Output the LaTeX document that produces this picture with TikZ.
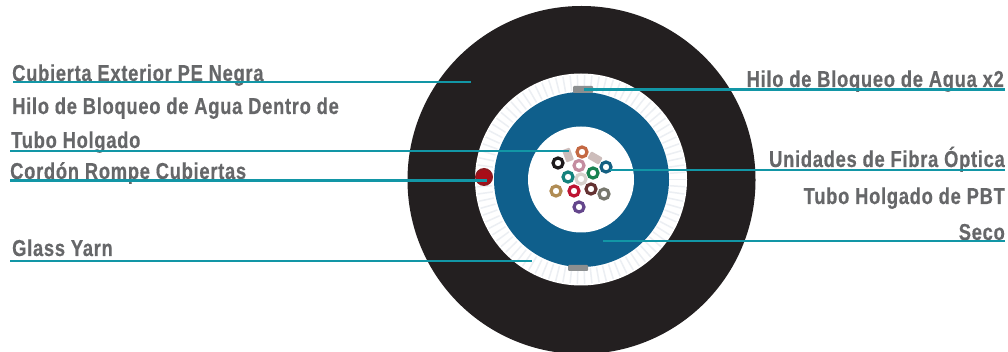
\documentclass[tikz,border=0pt]{standalone}
\usepackage{fontspec}
\newfontfamily\lblfont[FakeStretch=0.80,LetterSpace=3,FakeBold=0.4]{Liberation Sans Bold}
\definecolor{jacket}{HTML}{231F20}
\definecolor{tube}{HTML}{0F5F8C}
\definecolor{leader}{HTML}{1296A6}
\definecolor{txt}{HTML}{666769}
\definecolor{yarn}{HTML}{ECEFF3}
\definecolor{thread}{HTML}{8C8F90}
\definecolor{paleunit}{HTML}{CDBDBB}
\definecolor{ripdark}{HTML}{8E1A20}
\definecolor{ripred}{HTML}{A80D18}
\definecolor{cA}{HTML}{C46842}
\definecolor{cB}{HTML}{1E1A1C}
\definecolor{cC}{HTML}{C48CA0}
\definecolor{cD}{HTML}{146082}
\definecolor{cE}{HTML}{188250}
\definecolor{cF}{HTML}{14827D}
\definecolor{cG}{HTML}{D7D2CD}
\definecolor{cH}{HTML}{B08C54}
\definecolor{cI}{HTML}{BE1432}
\definecolor{cJ}{HTML}{643232}
\definecolor{cK}{HTML}{78786E}
\definecolor{cL}{HTML}{64468C}
\tikzset{
  lbl/.style={font=\lblfont\fontsize{23}{24}\selectfont,text=txt,inner sep=0pt},
  lblL/.style={lbl,anchor=base west},
  lblR/.style={lbl,anchor=base east},
  conn/.style={draw=leader,line width=2.2pt},
  fibre/.style={circle,draw=#1,line width=3.2pt,fill=white,minimum size=10pt,inner sep=0pt},
  disc/.style={circle,inner sep=0pt,minimum size=#1},
  threadbox/.style={fill=thread,rounded corners=1pt,inner sep=0pt},
  paleblock/.style={minimum width=8pt,minimum height=13pt,inner sep=0pt,fill=paleunit,rounded corners=1pt}
}
\begin{document}
\begin{tikzpicture}[x=1pt,y=-1pt]
\useasboundingbox (0,0) rectangle (1008,352);
\clip (0,0) rectangle (1008,352);
\fill[white] (0,0) rectangle (1008,352);
% cable cross-section
\node[disc=348pt,fill=jacket] (jacket) at (581.5,180) {};
\node[disc=212pt,fill=white] (yarnring) at (581,179.5) {};
\foreach \a in {0,4,...,356}
  \draw[yarn,line width=1.5pt] (581,179.5) ++(\a:89) -- ++(\a:15.5);
\node[disc=175pt,fill=tube] (tube) at (581.5,179.5) {};
\node[disc=106pt,fill=white] (core) at (581,179.5) {};
\node[threadbox,minimum width=20pt,minimum height=7pt] (threadA) at (583,89.5) {};
\node[threadbox,minimum width=20pt,minimum height=6pt] (threadB) at (578,268) {};
\node[disc=18pt,fill=ripdark] (ripH) at (484,177) {};
\node[disc=14pt,fill=ripred] (rip) at (484,177) {};
% fibres
\node[fibre=cA] (f1) at (582,152) {};
\node[paleblock,rotate=20] (f2) at (568,155) {};
\node[paleblock,rotate=60] (f3) at (595,158) {};
\node[fibre=cB] (f4) at (558,163) {};
\node[fibre=cC] (f5) at (579,165.5) {};
\node[fibre=cD] (f6) at (606,167) {};
\node[fibre=cE] (f7) at (593,173) {};
\node[fibre=cF] (f8) at (568,177) {};
\node[fibre=cG] (f9) at (581,179) {};
\node[fibre=cH] (f10) at (556,191) {};
\node[fibre=cI] (f11) at (574,191) {};
\node[fibre=cJ] (f12) at (591,189) {};
\node[fibre=cK] (f13) at (604,194) {};
\node[fibre=cL] (f14) at (579,207) {};
% labels
\node[lblL] (t1) at (12,81) {Cubierta Exterior PE Negra};
\node[lblL] (t2) at (12,114) {Hilo de Bloqueo de Agua Dentro de};
\node[lblL] (t3) at (11,148) {Tubo Holgado};
\node[lblL] (t4) at (10,179) {Cordón Rompe Cubiertas};
\node[lblL] (t5) at (12,256) {Glass Yarn};
\node[lblR] (t6) at (1004,87) {Hilo de Bloqueo de Agua x2};
\node[lblR] (t7) at (1005,167) {Unidades de Fibra Óptica};
\node[lblR] (t8) at (1005,204) {Tubo Holgado de PBT};
\node[lblR] (t9) at (1005,240) {Seco};
% leader ends
\coordinate (a1) at (13,82);   \coordinate (b1) at (471,82);
\coordinate (a2) at (10,151);  \coordinate (b2) at (569,151);
\coordinate (a3) at (10,180.5);\coordinate (b3) at (487,180.5);
\coordinate (a4) at (10,261);  \coordinate (b4) at (532,261);
\coordinate (a5) at (1005,89.5);\coordinate (b5) at (584,89.5);
\coordinate (a6) at (1005,170);\coordinate (b6) at (610,170);
\coordinate (a7) at (1005,241);\coordinate (b7) at (603,241);
\foreach \n in {1,...,7} \draw[conn] (a\n) -- (b\n);
\end{tikzpicture}
\end{document}
